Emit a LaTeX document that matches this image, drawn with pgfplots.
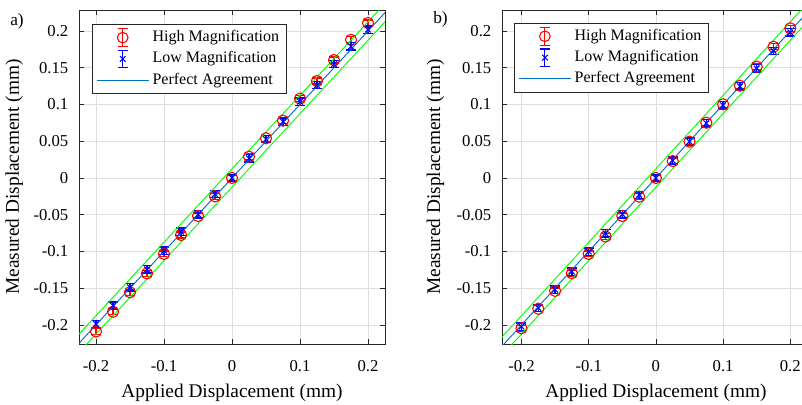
\documentclass[border=0pt]{standalone}
\usepackage{pgfplots}
\usepackage{pgfplotstable}
\pgfplotsset{compat=1.18}
\usepackage{fontspec}
\setmainfont{Liberation Serif}
\definecolor{mblue}{RGB}{0,114,189}
\definecolor{axgray}{RGB}{38,38,38}
\definecolor{gridgray}{RGB}{222,222,222}
\definecolor{mgreen}{RGB}{0,255,0}

\pgfplotstableread{
x hi ehi lo elo
-0.2 -0.209 0.004 -0.1986 0.005
-0.175 -0.182 0.004 -0.1737 0.005
-0.15 -0.1556 0.004 -0.1488 0.005
-0.125 -0.130 0.004 -0.1243 0.005
-0.1 -0.1034 0.004 -0.099 0.005
-0.075 -0.0776 0.004 -0.073 0.005
-0.05 -0.0517 0.004 -0.0494 0.005
-0.025 -0.025 0.004 -0.022 0.005
0 0.0 0.004 0.0 0.005
0.025 0.029 0.004 0.0268 0.005
0.05 0.054 0.004 0.053 0.005
0.075 0.078 0.004 0.0766 0.005
0.1 0.108 0.004 0.104 0.005
0.125 0.132 0.004 0.1265 0.005
0.15 0.1605 0.004 0.155 0.005
0.175 0.188 0.004 0.179 0.005
0.2 0.211 0.004 0.202 0.005
}\dataA

\pgfplotstableread{
x hi ehi lo elo
-0.2 -0.2045 0.004 -0.2023 0.005
-0.175 -0.178 0.004 -0.177 0.005
-0.15 -0.1537 0.004 -0.152 0.005
-0.125 -0.1297 0.004 -0.1274 0.005
-0.1 -0.1034 0.004 -0.1002 0.005
-0.075 -0.0798 0.004 -0.0753 0.005
-0.05 -0.0517 0.004 -0.0494 0.005
-0.025 -0.0254 0.004 -0.023 0.005
0 0.0 0.004 0.0 0.005
0.025 0.023 0.004 0.0235 0.005
0.05 0.0494 0.004 0.0494 0.005
0.075 0.0752 0.004 0.0744 0.005
0.1 0.1002 0.004 0.0989 0.005
0.125 0.1256 0.004 0.1247 0.005
0.15 0.1515 0.004 0.149 0.005
0.175 0.1786 0.004 0.173 0.005
0.2 0.2036 0.004 0.198 0.005
}\dataB

\pgfplotsset{
  myax/.style={
    scale only axis, height=250.5pt,
    ymin=-0.226, ymax=0.2286,
    xtick={-0.2,-0.1,0,0.1,0.2},
    ytick={-0.2,-0.15,-0.1,-0.05,0,0.05,0.1,0.15,0.2},
    grid=major, major grid style={gridgray, line width=0.6pt},
    axis line style={axgray, line width=0.6pt},
    tick style={axgray, line width=0.6pt},
    tick align=inside, major tick length=3.5pt,
    /pgf/number format/assume math mode=true,
    /pgf/number format/fixed, /pgf/number format/precision=2,
    ticklabel style={font=\fontsize{12.5}{14}\selectfont, text=black},
    yticklabel style={xshift=-4.5pt},
    xticklabel style={anchor=north, yshift=-8.5pt},
    label style={font=\fontsize{14.5}{17}\selectfont},
    xlabel={Applied Displacement (mm)},
    ylabel={Measured Displacement (mm)},
    xlabel style={at={(axis description cs:0.5,-0.145)}, anchor=center},
    legend style={draw=axgray, fill=white, line width=0.6pt,
      font=\fontsize{12}{14}\selectfont,
      cells={anchor=west},
      nodes={text height=8.5pt, text depth=2.5pt, inner sep=2.5pt},
      inner xsep=3pt, inner ysep=1.9pt},
  },
  hileg/.style={legend image code/.code={
    \draw[red, line width=0.9pt] (19.5pt,-6.75pt)--(19.5pt,6.75pt)
      (15.75pt,-6.75pt)--(23.25pt,-6.75pt) (15.75pt,6.75pt)--(23.25pt,6.75pt);
    \draw[red, line width=0.8pt, mark=o, mark size=4pt, only marks] plot coordinates {(19.5pt,0pt)};
  }},
  loleg/.style={legend image code/.code={
    \draw[blue, line width=0.9pt] (19.5pt,-6.5pt)--(19.5pt,6.5pt)
      (15.75pt,-6.5pt)--(23.25pt,-6.5pt) (15.75pt,6.5pt)--(23.25pt,6.5pt);
    \draw[blue, line width=0.8pt, mark=x, mark size=3pt, only marks] plot coordinates {(19.5pt,0pt)};
  }},
  lineleg/.style={legend image code/.code={
    \draw[mblue, line width=0.7pt] (0pt,0pt)--(39pt,0pt);
  }},
}

\begin{document}
\begin{tikzpicture}
\useasboundingbox (0,0) rectangle (601.5pt,303pt);

\begin{axis}[myax, at={(59.25pt,45pt)}, anchor=south west,
  width=229.5pt, xmin=-0.225, xmax=0.225,
  ylabel style={at={(axis description cs:-0.212,0.5)}, anchor=center},
  legend style={at={(axis description cs:0.042,0.958)}, anchor=north west}]
\addplot[red, only marks, mark=o, mark size=4.2pt, line width=0.8pt, hileg,
  error bars/.cd, y dir=both, y explicit,
  error bar style={red, line width=0.9pt},
  error mark options={red, rotate=90, mark size=3.75pt, line width=0.9pt}]
  table[x=x, y=hi, y error=ehi] {\dataA};
\addlegendentry{High Magnification\hspace{8pt}}
\addplot[blue, only marks, mark=x, mark size=3pt, line width=0.8pt, loleg,
  error bars/.cd, y dir=both, y explicit,
  error bar style={blue, line width=1pt},
  error mark options={blue, rotate=90, mark size=3.75pt, line width=1pt}]
  table[x=x, y=lo, y error=elo] {\dataA};
\addlegendentry{Low Magnification}
\addplot[mblue, line width=0.7pt, lineleg] coordinates {(-0.3,-0.3) (0.3,0.3)};
\addlegendentry{Perfect Agreement}
\addplot[mgreen, line width=0.7pt, forget plot] coordinates {(-0.3,-0.2875) (0.3,0.3125)};
\addplot[mgreen, line width=0.7pt, forget plot] coordinates {(-0.3,-0.3125) (0.3,0.2875)};
\end{axis}

\begin{axis}[myax, at={(376.5pt,45pt)}, anchor=south west,
  width=230.85pt, xmin=-0.229, xmax=0.229,
  ylabel style={at={(axis description cs:-0.216,0.5)}, anchor=center},
  legend style={at={(axis description cs:0.039,0.962)}, anchor=north west}]
\addplot[red, only marks, mark=o, mark size=4.2pt, line width=0.8pt, hileg,
  error bars/.cd, y dir=both, y explicit,
  error bar style={red, line width=0.9pt},
  error mark options={red, rotate=90, mark size=3.75pt, line width=0.9pt}]
  table[x=x, y=hi, y error=ehi] {\dataB};
\addlegendentry{High Magnification\hspace{8pt}}
\addplot[blue, only marks, mark=x, mark size=3pt, line width=0.8pt, loleg,
  error bars/.cd, y dir=both, y explicit,
  error bar style={blue, line width=1pt},
  error mark options={blue, rotate=90, mark size=3.75pt, line width=1pt}]
  table[x=x, y=lo, y error=elo] {\dataB};
\addlegendentry{Low Magnification}
\addplot[mblue, line width=0.7pt, lineleg] coordinates {(-0.3,-0.3) (0.3,0.3)};
\addlegendentry{Perfect Agreement}
\addplot[mgreen, line width=0.7pt, forget plot] coordinates {(-0.3,-0.2875) (0.3,0.3125)};
\addplot[mgreen, line width=0.7pt, forget plot] coordinates {(-0.3,-0.3125) (0.3,0.2875)};
\end{axis}

\node[anchor=north west, inner sep=0pt, font=\fontsize{13}{15}\selectfont] at (7.5pt,293.25pt) {a)};
\node[anchor=north west, inner sep=0pt, font=\fontsize{13}{15}\selectfont] at (324.75pt,294.25pt) {b)};
\end{tikzpicture}
\end{document}
